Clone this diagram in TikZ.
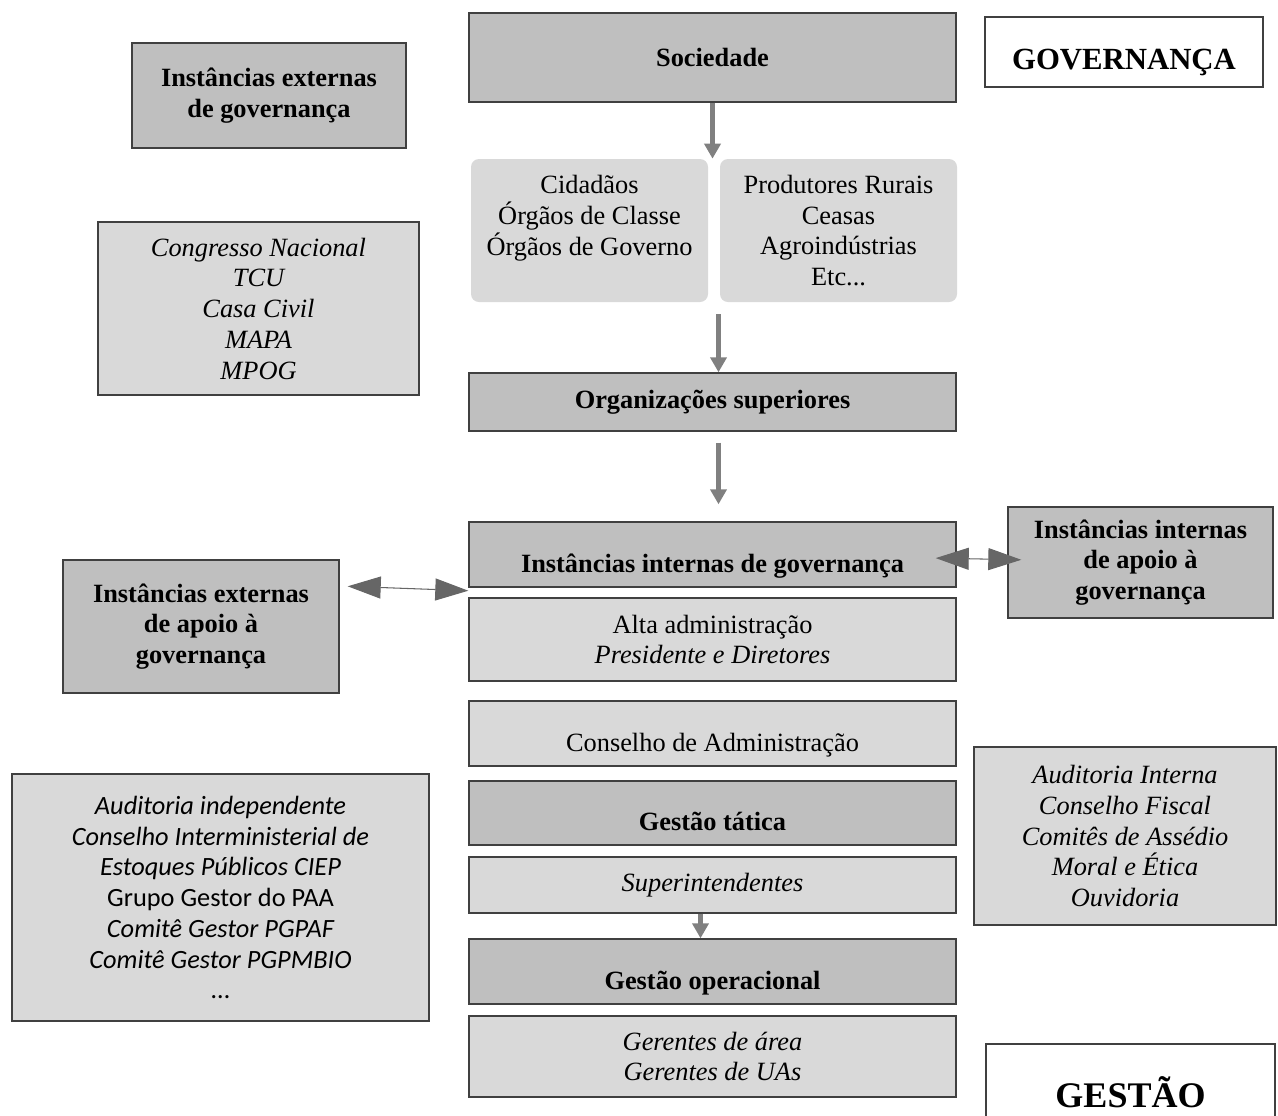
\documentclass[tikz,border=0pt]{standalone}
\usepackage{fontspec}
\setmainfont{Liberation Serif}
\newfontfamily\calibri{Carlito}
\usetikzlibrary{arrows.meta,calc}
\definecolor{BoxDark}{RGB}{191,191,191}
\definecolor{BoxLight}{RGB}{217,217,217}
\definecolor{Edge}{RGB}{64,64,64}
\definecolor{ArrowGray}{RGB}{128,128,128}
\definecolor{ArrowDark}{RGB}{102,102,102}
\newcommand\diagfont{\fontsize{15}{17.5}\selectfont}
\tikzset{
  box/.style={draw=Edge,line width=.8pt,align=center,text=black,font=\diagfont,inner sep=2pt,minimum width=97.4mm},
  headbox/.style={box,fill=BoxDark,font=\diagfont\bfseries},
  subbox/.style={box,fill=BoxLight},
  softbox/.style={fill=BoxLight,rounded corners=1.6mm,align=center,text=black,font=\diagfont,inner sep=2pt,minimum width=47.4mm,minimum height=28.6mm},
  titlebox/.style={box,fill=white},
  dropped/.style={text height=24pt,text depth=3.75pt},
  flow/.style={-{Triangle[length=3mm,width=3.2mm]},line width=2.3pt,draw=ArrowGray},
  twoway/.style={{Triangle[length=6.6mm,width=4.4mm]}-{Triangle[length=6.6mm,width=4.4mm]},line width=.6pt,draw=ArrowDark}
}
\begin{document}
\begin{tikzpicture}[x=0.2mm,y=-0.2mm]
  \useasboundingbox (0,0) rectangle (1278,1115);
  \node[headbox,minimum height=17.8mm] (soc) at (712.5,57.5) {Sociedade};
  \node[titlebox,dropped,minimum width=55.6mm,minimum height=14mm,font=\fontsize{17.5}{21}\selectfont\bfseries] (gov) at (1124,52) {GOVERNANÇA};
  \node[headbox,minimum width=54.8mm,minimum height=21mm] (extgov) at (269,95.5) {Instâncias externas\\de governança};
  \node[softbox] (cid) at (589.5,230.5) {Cidadãos\\Órgãos de Classe\\Órgãos de Governo\\\mbox{}};
  \node[softbox] (prod) at (838.5,230.5) {Produtores Rurais\\Ceasas\\Agroindústrias\\Etc...};
  \node[subbox,minimum width=64.2mm,minimum height=34.6mm,font=\diagfont\itshape] (cong) at (258.5,308.5) {Congresso Nacional\\TCU\\Casa Civil\\MAPA\\MPOG};
  \node[headbox,minimum height=11.6mm] (orgsup) at (712.5,402) {Organizações superiores};
  \node[headbox,dropped,minimum height=13mm] (intgov) at (712.5,554.5) {Instâncias internas de governança};
  \node[headbox,minimum width=53mm,minimum height=22.2mm] (intapoio) at (1140.5,562.5) {Instâncias internas\\de apoio à\\governança};
  \node[headbox,minimum width=55.2mm,minimum height=26.6mm] (extapoio) at (201,626.5) {Instâncias externas\\de apoio à\\governança};
  \node[subbox,minimum height=16.6mm] (alta) at (712.5,639.5) {Alta administração\\\textit{Presidente e Diretores}};
  \node[subbox,dropped,minimum height=13mm] (cons) at (712.5,733.5) {Conselho de Administração};
  \node[headbox,dropped,minimum height=12.8mm] (tatica) at (712.5,813) {Gestão tática};
  \node[subbox,minimum height=11.2mm,font=\diagfont\itshape] (super) at (712.5,885) {Superintendentes};
  \node[headbox,dropped,minimum height=13mm] (oper) at (712.5,971.5) {Gestão operacional};
  \node[subbox,minimum height=16.2mm,font=\diagfont\itshape] (ger) at (712.5,1056.5) {Gerentes de área\\Gerentes de UAs};
  \node[subbox,minimum width=83.4mm,minimum height=49.4mm,font=\diagfont\calibri\itshape] (audind) at (220.5,897.5) {Auditoria independente\\Conselho Interministerial de\\Estoques Públicos CIEP\\{\upshape Grupo Gestor do PAA}\\Comitê Gestor PGPAF\\Comitê Gestor PGPMBIO\\{\upshape …}};
  \node[subbox,minimum width=60.4mm,minimum height=35.6mm,font=\diagfont\itshape] (audint) at (1125,836) {Auditoria Interna\\Conselho Fiscal\\Comitês de Assédio\\Moral e Ética\\Ouvidoria};
  \node[titlebox,minimum width=57.8mm,minimum height=19.2mm,font=\fontsize{20.5}{24}\selectfont\bfseries] (gestao) at (1130.5,1092) {GESTÃO};
  \draw[flow] (soc.south) -- (soc.south |- cid.north);
  \draw[flow,shorten <=2.4mm] ($(cid.south -| orgsup.north)+(6,0)$) -- ($(orgsup.north)+(6,0)$);
  \draw[flow,shorten <=2.2mm,shorten >=3.4mm] ($(orgsup.south)+(6,0)$) -- ($(intgov.north)+(6,0)$);
  \draw[flow] ([xshift=-2.4mm]super.south) -- ([xshift=-2.4mm]oper.north);
  \draw[twoway,shorten <=-4.2mm,shorten >=-2.8mm] ($(intgov.east)+(0,4)$) -- ($(intapoio.west)+(0,-3)$);
  \draw[twoway] ($(extapoio.north east)+(8,27)$) -- ($(intgov.south west)+(0,3)$);
\end{tikzpicture}
\end{document}
